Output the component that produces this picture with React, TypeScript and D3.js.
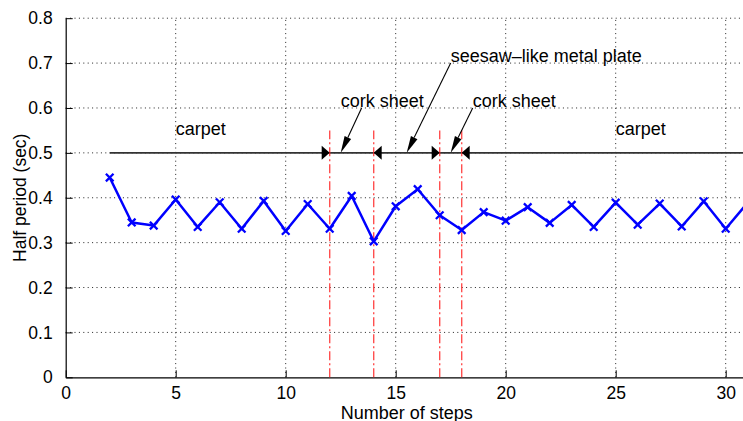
import React, { useEffect, useRef } from "react";
import * as d3 from "d3";

// measured half periods per step
const steps = [2, 3, 4, 5, 6, 7, 8, 9, 10, 11, 12, 13, 14, 15, 16, 17, 18, 19, 20, 21, 22, 23, 24, 25, 26, 27, 28, 29, 30, 31];
const halfPeriod = [0.445, 0.345, 0.338, 0.396, 0.335, 0.39, 0.331, 0.393, 0.326, 0.386, 0.331, 0.404, 0.303, 0.381,
  0.419, 0.361, 0.328, 0.368, 0.349, 0.379, 0.344, 0.384, 0.335, 0.389, 0.34, 0.387, 0.336, 0.392, 0.331, 0.389];

const xTicks = [0, 5, 10, 15, 20, 25, 30];
const yTicks = [0, 0.1, 0.2, 0.3, 0.4, 0.5, 0.6, 0.7, 0.8];

// surface boundaries (red dash-dot lines) and the arrow heads on the 0.5 line
const boundaries = [12, 14, 17, 18];
const boundaryTop = 0.55;
const boundaryDir = ["right", "left", "right", "left"];
const surfaceLevel = 0.5;
const surfaceStart = 2;

const labels = [
  { text: "carpet", x: 5, y: 0.54 },
  { text: "carpet", x: 25, y: 0.54 },
  { text: "cork sheet", x: 12.5, y: 0.603 },
  { text: "cork sheet", x: 18.5, y: 0.603 },
  { text: "seesaw\u2013like metal plate", x: 17.5, y: 0.703 },
];
const pointers = [
  { x1: 13.45, y1: 0.6, x2: 12.5, y2: 0.5 },
  { x1: 17.5, y1: 0.7, x2: 15.5, y2: 0.5 },
  { x1: 18.5, y1: 0.6, x2: 17.5, y2: 0.5 },
];

const W = 743;
const H = 421;
const font = "'Liberation Sans', Arial, Helvetica, sans-serif";

export default function App() {
  const ref = useRef<SVGSVGElement>(null);

  useEffect(() => {
    const svg = d3.select(ref.current).html("");
    const left = 65.7, right = 747.7, top = 18.2, bottom = 377.3;

    const x = d3.scaleLinear().domain([0, 31]).range([left, right]);
    const y = d3.scaleLinear().domain([0, 0.8]).range([bottom, top]);

    // grid
    const grid = svg.append("g")
      .attr("stroke", "#222")
      .attr("stroke-width", 1)
      .attr("stroke-dasharray", "1,3.4");
    grid.selectAll(".gx").data(xTicks.filter(d => d > 0)).join("line")
      .attr("x1", d => x(d)).attr("x2", d => x(d))
      .attr("y1", bottom).attr("y2", top);
    grid.selectAll(".gy").data(yTicks.filter(d => d > 0)).join("line")
      .attr("x1", left).attr("x2", right)
      .attr("y1", d => y(d)).attr("y2", d => y(d));

    // axes
    const xAxis = svg.append("g").attr("transform", `translate(0,${bottom})`)
      .call(d3.axisBottom(x).tickValues(xTicks).tickSizeInner(-7).tickSizeOuter(0).tickPadding(9).tickFormat(d3.format("d")));
    const yAxis = svg.append("g").attr("transform", `translate(${left},0)`)
      .call(d3.axisLeft(y).tickValues(yTicks).tickSizeInner(-7).tickSizeOuter(0).tickPadding(13)
        .tickFormat(d => (d === 0 ? "0" : d3.format(".1f")(d as number))));
    [xAxis, yAxis].forEach(a => {
      a.select(".domain").attr("stroke", "#000").attr("stroke-width", 1.2);
      a.selectAll(".tick line").attr("stroke", "#000").attr("stroke-width", 1);
      a.selectAll(".tick text").attr("font-family", font).attr("font-size", 17.5).attr("fill", "#000");
    });

    // surface line at 0.5
    svg.append("line")
      .attr("x1", x(surfaceStart)).attr("x2", right)
      .attr("y1", y(surfaceLevel)).attr("y2", y(surfaceLevel))
      .attr("stroke", "#333").attr("stroke-width", 1.6);

    // boundaries
    svg.selectAll(".bnd").data(boundaries).join("line")
      .attr("x1", d => x(d)).attr("x2", d => x(d))
      .attr("y1", y(0)).attr("y2", y(boundaryTop))
      .attr("stroke", "#ff3030").attr("stroke-opacity", 0.85).attr("stroke-width", 1.4)
      .attr("stroke-dasharray", "9,3,2,3");

    svg.selectAll(".head").data(boundaries).join("path")
      .attr("d", (d, i) => {
        const tx = x(d), ty = y(surfaceLevel);
        const s = boundaryDir[i] === "right" ? -1 : 1;
        return `M${tx},${ty} L${tx + s * 8},${ty - 7} L${tx + s * 8},${ty + 7} Z`;
      })
      .attr("fill", "#000");

    // data line
    const pts: [number, number][] = steps.map((s, i) => [s, halfPeriod[i]]);
    svg.append("path")
      .datum(pts)
      .attr("fill", "none")
      .attr("stroke", "#0000ff")
      .attr("stroke-width", 2.5)
      .attr("stroke-linejoin", "round")
      .attr("d", d3.line<[number, number]>().x(d => x(d[0])).y(d => y(d[1])));

    svg.selectAll(".mk").data(pts).join("path")
      .attr("d", d => {
        const cx = x(d[0]), cy = y(d[1]), r = 3.8;
        return `M${cx - r},${cy - r}L${cx + r},${cy + r}M${cx - r},${cy + r}L${cx + r},${cy - r}`;
      })
      .attr("stroke", "#0000ff").attr("stroke-width", 2.3).attr("fill", "none");

    // annotation arrows
    pointers.forEach(p => {
      const x1 = x(p.x1), y1 = y(p.y1), x2 = x(p.x2), y2 = y(p.y2);
      const ang = Math.atan2(y2 - y1, x2 - x1);
      const L = 17, hw = 3.6;
      const bx = x2 - L * Math.cos(ang), by = y2 - L * Math.sin(ang);
      const nx = -Math.sin(ang) * hw, ny = Math.cos(ang) * hw;
      svg.append("line").attr("x1", x1).attr("y1", y1).attr("x2", bx).attr("y2", by)
        .attr("stroke", "#000").attr("stroke-width", 1.1);
      svg.append("path")
        .attr("d", `M${x2},${y2}L${bx + nx},${by + ny}L${bx - nx},${by - ny}Z`)
        .attr("fill", "#000");
    });

    svg.selectAll(".lbl").data(labels).join("text")
      .attr("x", d => x(d.x)).attr("y", d => y(d.y))
      .attr("font-family", font).attr("font-size", 18)
      .attr("fill", "#000")
      .text(d => d.text);

    // axis titles
    svg.append("text")
      .attr("x", (left + right) / 2).attr("y", 419)
      .attr("text-anchor", "middle")
      .attr("font-family", font).attr("font-size", 18)
      .text("Number of steps");
    svg.append("text")
      .attr("transform", `translate(26,${(top + bottom) / 2}) rotate(-90)`)
      .attr("text-anchor", "middle")
      .attr("font-family", font).attr("font-size", 17.5)
      .text("Half period (sec)");
  }, []);

  return (
    <div>
      <svg ref={ref} width={W} height={H}
        style={{ position: "absolute", left: 0, top: 0, background: "#fff" }}></svg>
    </div>
  );
}
